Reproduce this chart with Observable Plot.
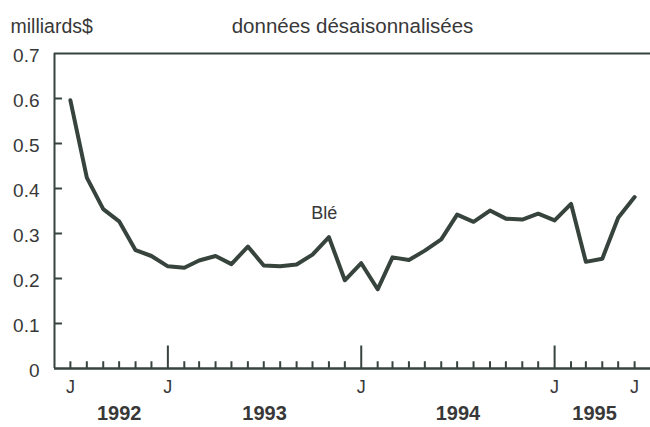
<!DOCTYPE html>
<html>
<head>
<meta charset="utf-8">
<script src="https://cdn.jsdelivr.net/npm/d3@7"></script>
<script src="https://cdn.jsdelivr.net/npm/@observablehq/plot@0.6"></script>
<style>
  html, body { margin: 0; padding: 0; background: #fff; }
  svg { display: block; }
</style>
</head>
<body>
<div id="chart"></div>
<script>
// ---- Data ----
const firstMonth = "1992-07";
const values = [
  0.596, 0.424, 0.354, 0.327, 0.263, 0.250,
  0.227, 0.224, 0.240, 0.250, 0.232, 0.271,
  0.229, 0.227, 0.231, 0.253, 0.292, 0.196,
  0.234, 0.176, 0.247, 0.241, 0.262, 0.287,
  0.342, 0.326, 0.351, 0.333, 0.331, 0.344,
  0.329, 0.366, 0.237, 0.244, 0.335, 0.381
];
const yTicks = [0, 0.1, 0.2, 0.3, 0.4, 0.5, 0.6, 0.7];
const monthLabelDates = ["1992-07", "1993-01", "1994-01", "1995-01", "1995-06"];
const monthLabelText = ["J", "J", "J", "J", "J"];
const yearLabels = ["1992", "1993", "1994", "1995"];
const yearSpans = [["1992-07", "1993-01"], ["1993-01", "1994-01"], ["1994-01", "1995-01"], ["1995-01", "1995-06"]];
const seriesName = "Blé";
const seriesLabelAt = ["1993-10-23", 0.344];
const unitLabel = "milliards$";
const titleText = "données désaisonnalisées";

// ---- Build table ----
const parse = d3.utcParse("%Y-%m");
const start = parse(firstMonth);
const data = values.map((v, i) => ({date: d3.utcMonth.offset(start, i), value: v}));
const months = data.map(d => d.date);
const majors = months.filter(d => d.getUTCMonth() === 0);
const minors = months.filter(d => d.getUTCMonth() !== 0);
const xStart = d3.utcMonth.offset(start, -1);
const xEnd = d3.utcMonth.offset(months[months.length - 1], 1);
const yearData = yearLabels.map((y, i) => {
  const a = parse(yearSpans[i][0]), b = parse(yearSpans[i][1]);
  return {label: y, date: new Date((+a + +b) / 2)};
});
const jData = monthLabelDates.map((m, i) => ({date: parse(m), text: monthLabelText[i]}));

const ink = "#37433d";
const textInk = "#383838";
const font = "'Liberation Sans', Arial, Helvetica, sans-serif";

const chart = Plot.plot({
  width: 650,
  height: 427,
  marginLeft: 54,
  marginRight: 0,
  marginTop: 53,
  marginBottom: 59,
  style: {fontFamily: font, background: "#fff", color: textInk},
  x: {type: "utc", domain: [xStart, xEnd], axis: null},
  y: {domain: [0, 0.7], axis: null},
  marks: [
    // y tick labels
    Plot.axisY(yTicks, {
      label: null, tickSize: 0, tickPadding: 15, fontSize: 19, fill: textInk, dy: 2,
      tickFormat: d => d === 0 ? "0" : d.toFixed(1)
    }),
    // inward y ticks
    Plot.ruleY(yTicks.slice(1, -1), {x1: xStart, x2: d3.utcDay.offset(xStart, 15), stroke: ink, strokeWidth: 2}),
    // frame
    Plot.ruleX([xStart], {y1: 0, y2: 0.7, stroke: ink, strokeWidth: 2}),
    Plot.ruleY([0.7], {stroke: ink, strokeWidth: 2}),
    Plot.ruleY([0], {stroke: ink, strokeWidth: 2.5}),
    // x ticks pointing up
    Plot.ruleX(minors, {y1: 0, y2: 0.015, stroke: ink, strokeWidth: 2}),
    Plot.ruleX(majors, {y1: 0, y2: 0.05, stroke: ink, strokeWidth: 2}),
    // month labels
    Plot.text(jData, {x: "date", y: () => 0, text: "text", dy: 19, fontSize: 18, fill: textInk}),
    // year labels
    Plot.text(yearData, {x: "date", y: () => 0, text: "label", dy: 45, fontSize: 20, fontWeight: "bold", fill: textInk}),
    // series
    Plot.line(data, {x: "date", y: "value", stroke: ink, strokeWidth: 4, strokeLinejoin: "round", strokeLinecap: "round"}),
    Plot.text([seriesName], {x: () => new Date(seriesLabelAt[0]), y: () => seriesLabelAt[1], text: d => d, fontSize: 18, fill: textInk}),
    // header texts
    Plot.text([unitLabel], {frameAnchor: "top-left", lineAnchor: "middle", dx: -44, dy: -27, textAnchor: "start", text: d => d, fontSize: 19.5, fill: textInk}),
    Plot.text([titleText], {frameAnchor: "top", lineAnchor: "middle", dy: -27, text: d => d, fontSize: 20.5, fill: textInk})
  ]
});
document.getElementById("chart").appendChild(chart);
</script>
</body>
</html>
